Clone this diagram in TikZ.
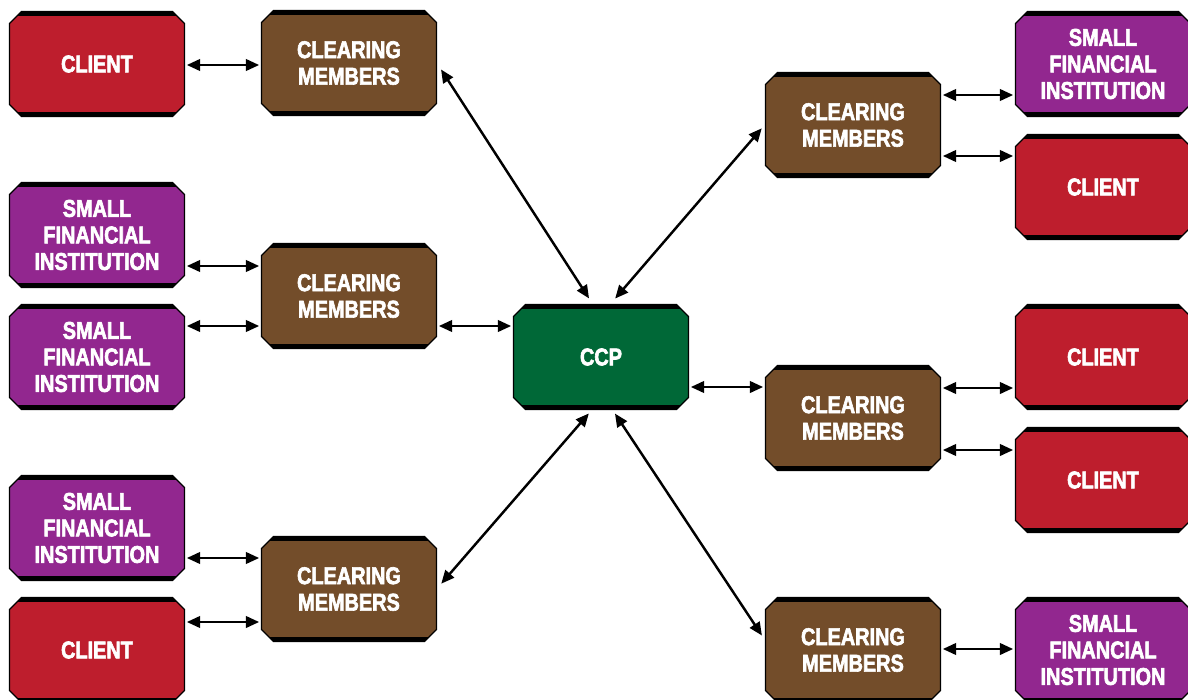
\documentclass[tikz,border=0pt]{standalone}
\usepackage{fontspec}
\newfontfamily\boxfont{Liberation Sans Bold}[FakeStretch=0.82, FakeBold=2.5]
\usetikzlibrary{shapes.misc,arrows.meta,calc}
\definecolor{clientred}{RGB}{190,30,45}
\definecolor{memberbrown}{RGB}{115,77,42}
\definecolor{sfipurple}{RGB}{146,39,143}
\definecolor{ccpgreen}{RGB}{0,104,55}
\tikzset{
  box/.style={chamfered rectangle, chamfered rectangle sep=3.4pt,
    minimum width=3.5cm, minimum height=2.1cm, inner sep=0pt,
    draw=black, line width=0.7pt, text=white, align=center,
    font=\boxfont\fontsize{13.8}{15.1}\selectfont,
    path picture={
      \fill[black] (path picture bounding box.north west) rectangle
        ([yshift=-2.6pt]path picture bounding box.north east);
      \fill[black] (path picture bounding box.south west) rectangle
        ([yshift=2.6pt]path picture bounding box.south east);
    }},
  client/.style={box, fill=clientred},
  member/.style={box, fill=memberbrown},
  sfi/.style={box, fill=sfipurple},
  ccpbox/.style={box, fill=ccpgreen},
  link/.style={{Triangle[length=7.5pt,width=6.5pt]}-{Triangle[length=7.5pt,width=6.5pt]},
    line width=1.4pt, shorten >=1pt, shorten <=1pt}
}
\begin{document}
\begin{tikzpicture}[x=0.02cm,y=-0.02cm]
  \useasboundingbox (0,0) rectangle (1188,700);
  % left side
  \node[client] (cl1) at (97,64) {CLIENT};
  \node[member] (cm1) at (349,63) {CLEARING\\MEMBERS};
  \node[sfi] (sfi2) at (97,235) {SMALL\\FINANCIAL\\INSTITUTION};
  \node[sfi] (sfi3) at (97,357) {SMALL\\FINANCIAL\\INSTITUTION};
  \node[member] (cm2) at (349,296) {CLEARING\\MEMBERS};
  \node[sfi] (sfi4) at (97,528) {SMALL\\FINANCIAL\\INSTITUTION};
  \node[client] (cl5) at (97,650) {CLIENT};
  \node[member] (cm3) at (349,589) {CLEARING\\MEMBERS};
  % centre
  \node[ccpbox] (ccp) at (601,357) {CCP};
  % right side
  \node[member] (cm4) at (853,125) {CLEARING\\MEMBERS};
  \node[member] (cm5) at (853,418) {CLEARING\\MEMBERS};
  \node[member] (cm6) at (853,650) {CLEARING\\MEMBERS};
  \node[sfi] (sfi6) at (1103,64) {SMALL\\FINANCIAL\\INSTITUTION};
  \node[client] (cl7) at (1103,187) {CLIENT};
  \node[client] (cl8) at (1103,357) {CLIENT};
  \node[client] (cl9) at (1103,480) {CLIENT};
  \node[sfi] (sfi10) at (1103,650) {SMALL\\FINANCIAL\\INSTITUTION};

  \begin{scope}[link]
    \draw ($(cl1.east)+(0,1)$) -- ($(cm1.west)+(0,2)$);
    \draw ($(sfi2.east)+(0,31)$) -- ($(cm2.west)+(0,-30)$);
    \draw ($(sfi3.east)+(0,-31)$) -- ($(cm2.west)+(0,30)$);
    \draw ($(cm2.east)+(0,30)$) -- ($(ccp.west)+(0,-31)$);
    \draw ($(sfi4.east)+(0,30)$) -- ($(cm3.west)+(0,-31)$);
    \draw ($(cl5.east)+(0,-28)$) -- ($(cm3.west)+(0,33)$);
    \draw ($(cm1.east)+(3,5)$) -- ($(ccp.north)+(-11,-4)$);
    \draw ($(cm4.west)+(-2,2)$) -- ($(ccp.north)+(13,-4)$);
    \draw ($(ccp.east)+(0,30)$) -- ($(cm5.west)+(0,-31)$);
    \draw ($(cm3.east)+(3,-4)$) -- ($(ccp.south)+(-11,2)$);
    \draw ($(ccp.south)+(13,2)$) -- ($(cm6.west)+(-2,-13)$);
    \draw ($(cm4.east)+(0,-30)$) -- ($(sfi6.west)+(0,31)$);
    \draw ($(cm4.east)+(0,31)$) -- ($(cl7.west)+(0,-31)$);
    \draw ($(cm5.east)+(0,-30)$) -- ($(cl8.west)+(0,31)$);
    \draw ($(cm5.east)+(0,32)$) -- ($(cl9.west)+(0,-30)$);
    \draw ($(cm6.east)+(0,-1)$) -- ($(sfi10.west)+(0,-1)$);
  \end{scope}
\end{tikzpicture}
\end{document}
